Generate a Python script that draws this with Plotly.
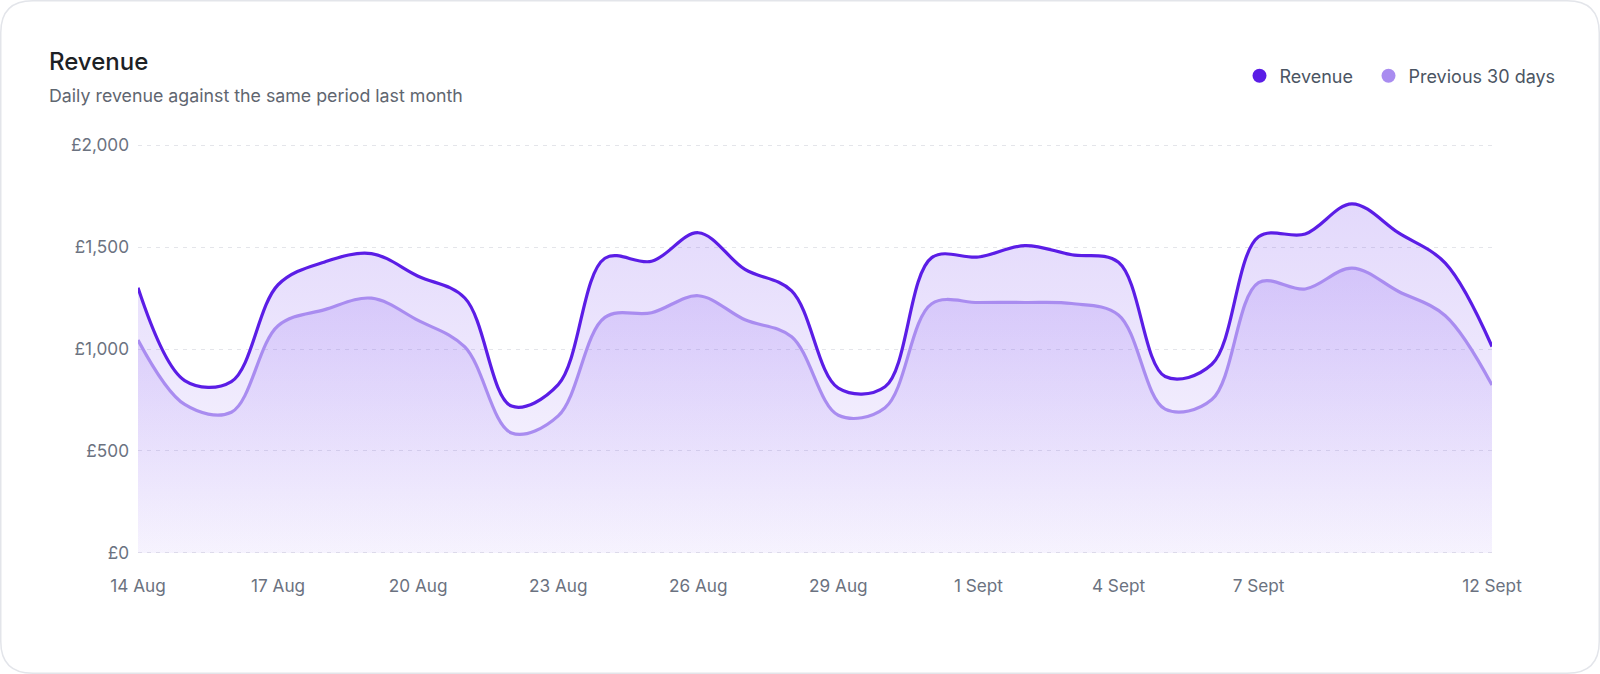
import plotly.graph_objects as go

# ---- data ----
dates = [
    "2024-08-14", "2024-08-15", "2024-08-16", "2024-08-17", "2024-08-18",
    "2024-08-19", "2024-08-20", "2024-08-21", "2024-08-22", "2024-08-23",
    "2024-08-24", "2024-08-25", "2024-08-26", "2024-08-27", "2024-08-28",
    "2024-08-29", "2024-08-30", "2024-08-31", "2024-09-01", "2024-09-02",
    "2024-09-03", "2024-09-04", "2024-09-05", "2024-09-06", "2024-09-07",
    "2024-09-08", "2024-09-09", "2024-09-10", "2024-09-11", "2024-09-12",
]
revenue = [1300, 845, 840, 1315, 1427, 1468, 1357, 1250, 720, 825,
           1445, 1430, 1570, 1390, 1285, 808, 815, 1448, 1451, 1507,
           1462, 1425, 865, 925, 1550, 1564, 1712, 1569, 1421, 1012]
previous = [1044, 728, 690, 1114, 1193, 1249, 1140, 1010, 588, 672,
            1155, 1178, 1261, 1143, 1060, 675, 712, 1222, 1228, 1228,
            1223, 1167, 705, 752, 1325, 1294, 1397, 1282, 1163, 823]
tick_dates = ["2024-08-14", "2024-08-17", "2024-08-20", "2024-08-23", "2024-08-26",
              "2024-08-29", "2024-09-01", "2024-09-04", "2024-09-07", "2024-09-12"]
tick_labels = ["14 Aug", "17 Aug", "20 Aug", "23 Aug", "26 Aug",
               "29 Aug", "1 Sept", "4 Sept", "7 Sept", "12 Sept"]
y_ticks = [0, 500, 1000, 1500, 2000]
y_tick_labels = ["£0", "£500", "£1,000", "£1,500", "£2,000"]
series_names = ["Revenue", "Previous 30 days"]

REV = "#5b1de6"
PREV = "#a98cf0"
FONT = "Inter"

# plot area in pixels
W, H = 1600, 674
L, R, T, B = 138, 108, 143, 119
PW, PH = W - L - R, H - T - B

def px(x):
    return (x - L) / PW

def py(y):
    return (H - B - y) / PH

grad = dict(type="vertical", start=0, stop=1750,
            colorscale=[[0, "rgba(124,77,240,0.035)"], [1, "rgba(124,77,240,0.22)"]])

fig = go.Figure()
fig.add_trace(go.Scatter(
    x=dates, y=revenue, mode="lines", name=series_names[0],
    line=dict(color=REV, width=3.2, shape="spline", smoothing=1),
    fill="tozeroy", fillgradient=grad, showlegend=False, hoverinfo="skip",
))
fig.add_trace(go.Scatter(
    x=dates, y=previous, mode="lines", name=series_names[1],
    line=dict(color=PREV, width=3.2, shape="spline", smoothing=1),
    fill="tozeroy", fillgradient=grad, showlegend=False, hoverinfo="skip",
))
# legend entries (one legend box per series so spacing matches)
for nm, col, lg in zip(series_names, [REV, PREV], ["legend", "legend2"]):
    fig.add_trace(go.Scatter(x=[None], y=[None], mode="markers", name=nm, legend=lg,
                             marker=dict(size=14, color=col), showlegend=True))

# rounded card border
r = 32
x0, y0, x1, y1 = 0.75, 0.75, W - 0.75, H - 0.75
pts = [
    f"M{px(x0 + r)},{py(y0)}",
    f"L{px(x1 - r)},{py(y0)}",
    f"Q{px(x1)},{py(y0)} {px(x1)},{py(y0 + r)}",
    f"L{px(x1)},{py(y1 - r)}",
    f"Q{px(x1)},{py(y1)} {px(x1 - r)},{py(y1)}",
    f"L{px(x0 + r)},{py(y1)}",
    f"Q{px(x0)},{py(y1)} {px(x0)},{py(y1 - r)}",
    f"L{px(x0)},{py(y0 + r)}",
    f"Q{px(x0)},{py(y0)} {px(x0 + r)},{py(y0)}",
    "Z",
]
fig.add_shape(type="path", path=" ".join(pts), xref="paper", yref="paper",
              line=dict(color="#e3e5ea", width=1.5), fillcolor="rgba(0,0,0,0)", layer="below")

fig.add_annotation(text="Revenue", x=px(47), y=py(61), xref="paper", yref="paper",
                   xanchor="left", yanchor="middle", showarrow=False,
                   font=dict(family=FONT, size=24, color="#1d2125", weight=500))
fig.add_annotation(text="Daily revenue against the same period last month",
                   x=px(47), y=py(95), xref="paper", yref="paper",
                   xanchor="left", yanchor="middle", showarrow=False,
                   font=dict(family=FONT, size=17.8, color="#5f6670"))

leg_common = dict(orientation="h", xanchor="left", y=py(76), yanchor="middle",
                  font=dict(family=FONT, size=18, color="#4b5563"),
                  bgcolor="rgba(0,0,0,0)", itemclick=False, itemdoubleclick=False)

fig.update_layout(
    width=W, height=H,
    margin=dict(l=L, r=R, t=T, b=B),
    paper_bgcolor="white", plot_bgcolor="white",
    font=dict(family=FONT, color="#6b7280"),
    legend=dict(x=px(1239.5), **leg_common),
    legend2=dict(x=px(1368.5), **leg_common),
    xaxis=dict(type="date", range=[dates[0], dates[-1]], tickvals=tick_dates, ticktext=tick_labels,
               showgrid=False, zeroline=False, showline=False, ticks="",
               tickfont=dict(family=FONT, size=17.2, color="#6b7280"), ticklabelstandoff=19),
    yaxis=dict(range=[-10, 2010], tickvals=y_ticks, ticktext=y_tick_labels,
               showgrid=True, gridcolor="#e4e5ea", griddash="4px,5px", gridwidth=1,
               zeroline=False, showline=False, ticks="",
               tickfont=dict(family=FONT, size=17.2, color="#6b7280"), ticklabelstandoff=8),
    hovermode=False,
)

fig.write_html("out.html", config={"displayModeBar": False},
               post_script="document.body.style.margin='0';")
